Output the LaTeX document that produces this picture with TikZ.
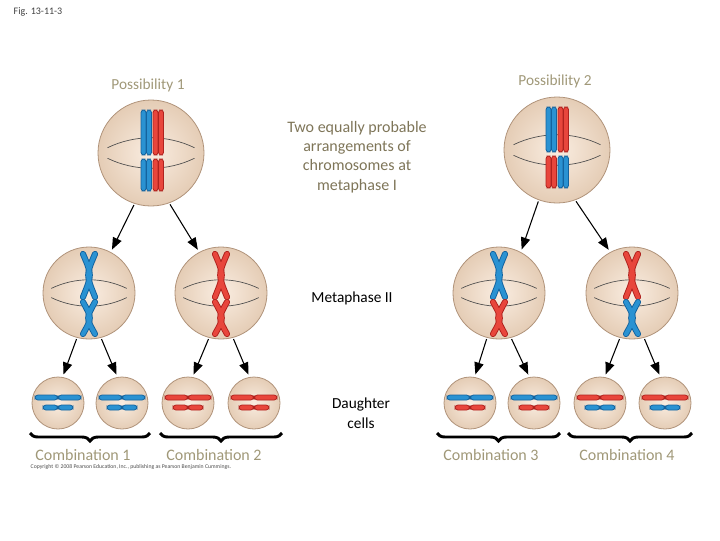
\documentclass[tikz,border=0pt]{standalone}
\usepackage{fontspec}
\setmainfont{Carlito}
\usetikzlibrary{decorations.pathreplacing,arrows.meta}
\definecolor{bl}{HTML}{2A92D2}
\definecolor{bld}{HTML}{14639E}
\definecolor{rd}{HTML}{E8463C}
\definecolor{rdd}{HTML}{B0221E}
\definecolor{cellf}{HTML}{F6E1CD}
\definecolor{celld}{HTML}{B0937A}
\definecolor{tan}{HTML}{A09878}
\definecolor{olive}{HTML}{7E7558}
\tikzset{
 cell/.style={circle,draw=celld,line width=0.6pt,inner color=cellf!60!white,outer color=cellf!90!brown!95!black,inner sep=0pt},
 spin/.style={draw=black!70,line width=0.5pt},
 arr/.style={-{Triangle[length=9pt,width=7pt]},line width=0.8pt,shorten >=2pt,shorten <=1pt},
 lbl/.style={font=\fontsize{11.5}{14}\selectfont,text=tan},
 blk/.style={font=\fontsize{11.5}{15}\selectfont,text=black,align=center},
 brc/.style={decorate,decoration={brace,amplitude=6pt,mirror},line width=2.2pt},
}
\newcommand\spindle[3]{%
 \draw[spin] (#1-0.82*#3,#2-0.1*#3) .. controls (#1-0.3*#3,#2-0.35*#3) and (#1+0.3*#3,#2-0.35*#3) .. (#1+0.82*#3,#2-0.1*#3);
 \draw[spin] (#1-0.82*#3,#2+0.1*#3) .. controls (#1-0.3*#3,#2+0.35*#3) and (#1+0.3*#3,#2+0.35*#3) .. (#1+0.82*#3,#2+0.1*#3);}
\newcommand\chrV[5]{% x (left edge), ytop, ybot, fill, edge
 \draw[fill=#4,draw=#5,line width=0.6pt,rounded corners=2pt] (#1,#2) rectangle (#1+5,#3);
 \draw[fill=#4,draw=#5,line width=0.6pt,rounded corners=2pt] (#1+5.5,#2) rectangle (#1+10.5,#3);}
\newcommand\chrX[6]{% x, ytop, ymid, ybot, fill, edge
 \foreach \s in {-1,1}{
 \draw[#6,line width=4.6pt,line cap=round] (#1+\s*6,#2) .. controls (#1-\s*3,#3) .. (#1+\s*6,#4);}
 \foreach \s in {-1,1}{
 \draw[#5,line width=3.2pt,line cap=round] (#1+\s*6,#2) .. controls (#1-\s*3,#3) .. (#1+\s*6,#4);}}
\newcommand\dbar[6]{% x1,x2,y1,y2,fill,edge
 \draw[fill=#5,draw=#6,line width=0.6pt,rounded corners=2.2pt] (#1,#3) rectangle (#2,#4);}
\newcommand\dcell[6]{% x,y, top fill, top edge, bottom fill, bottom edge
 \dbar{#1-23}{#1-0.5}{#2-8}{#2-3}{#3}{#4}\dbar{#1+0.5}{#1+23}{#2-8}{#2-3}{#3}{#4}
 \dbar{#1-15}{#1-0.5}{#2+2}{#2+7}{#5}{#6}\dbar{#1+0.5}{#1+15}{#2+2}{#2+7}{#5}{#6}}
\begin{document}
\begin{tikzpicture}[x=0.75pt,y=-0.75pt]
\useasboundingbox (0,0) rectangle (720,540);
\node[font=\fontsize{7.5}{9}\selectfont,anchor=west,text=black!75] (fig) at (9,12) {Fig. 13-11-3};
% big cells
\node[cell,minimum size=106*0.75pt] (c1) at (151,153) {};
\node[cell,minimum size=106*0.75pt] (c2) at (557,150) {};
\spindle{151}{153}{53}\spindle{557}{150}{53}
\chrV{141}{110}{155}{bl}{bld}\chrV{153}{110}{155}{rd}{rdd}
\chrV{141}{159}{191}{bl}{bld}\chrV{153}{159}{191}{rd}{rdd}
\chrV{546}{107}{152}{bl}{bld}\chrV{558}{107}{152}{rd}{rdd}
\chrV{546}{156}{188}{rd}{rdd}\chrV{558}{156}{188}{bl}{bld}
% metaphase II
\node[cell,minimum size=92*0.75pt] (m1) at (89,293) {};
\node[cell,minimum size=92*0.75pt] (m2) at (221,293) {};
\node[cell,minimum size=92*0.75pt] (m3) at (499,293) {};
\node[cell,minimum size=92*0.75pt] (m4) at (632,293) {};
\foreach \x in {89,221,499,632}{\spindle{\x}{293}{46}}
\chrX{89}{254}{275}{297}{bl}{bld}\chrX{89}{302}{318}{334}{bl}{bld}
\chrX{221}{254}{275}{297}{rd}{rdd}\chrX{221}{302}{318}{334}{rd}{rdd}
\chrX{499}{254}{275}{297}{bl}{bld}\chrX{499}{302}{318}{334}{rd}{rdd}
\chrX{632}{254}{275}{297}{rd}{rdd}\chrX{632}{302}{318}{334}{bl}{bld}
% daughters
\foreach \n/\x in {1/58,2/122,3/188,4/254,5/470,6/534,7/600,8/665}{
 \node[cell,minimum size=52*0.75pt] (d\n) at (\x,403) {};}
\dcell{58}{403}{bl}{bld}{bl}{bld}\dcell{122}{403}{bl}{bld}{bl}{bld}
\dcell{188}{403}{rd}{rdd}{rd}{rdd}\dcell{254}{403}{rd}{rdd}{rd}{rdd}
\dcell{470}{403}{bl}{bld}{rd}{rdd}\dcell{534}{403}{bl}{bld}{rd}{rdd}
\dcell{600}{403}{rd}{rdd}{bl}{bld}\dcell{665}{403}{rd}{rdd}{bl}{bld}
% arrows
\draw[arr] (c1.252) -- (m1.62);
\draw[arr] (c1.290) -- (m2.118);
\draw[arr] (c2.250) -- (m3.62);
\draw[arr] (c2.290) -- (m4.118);
\foreach \m/\a/\b in {m1/d1/d2,m2/d3/d4,m3/d5/d6,m4/d7/d8}{
 \draw[arr] (\m.255) -- (\a.80);
 \draw[arr] (\m.285) -- (\b.100);}
% braces
\coordinate (b1l) at (30,433); \coordinate (b1r) at (150,433);
\coordinate (b2l) at (160,433); \coordinate (b2r) at (282,433);
\coordinate (b3l) at (437,433); \coordinate (b3r) at (560,433);
\coordinate (b4l) at (568,433); \coordinate (b4r) at (692,433);
\draw[brc] (b1l) -- (b1r);
\draw[brc] (b2l) -- (b2r);
\draw[brc] (b3l) -- (b3r);
\draw[brc] (b4l) -- (b4r);
% labels
\node[lbl] (p1) at (148,85) {Possibility 1};
\node[lbl] (p2) at (555,81) {Possibility 2};
\node[blk,text=olive,font=\fontsize{12}{14.5}\selectfont] (two) at (357,157) {Two equally probable\\arrangements of\\chromosomes at\\metaphase I};
\node[blk] (m2l) at (352,298) {Metaphase II};
\node[blk] (dc) at (361,413) {Daughter\\cells};
\node[lbl,font=\fontsize{12}{14}\selectfont] (k1) at (83,455) {Combination 1};
\node[lbl,font=\fontsize{12}{14}\selectfont] (k2) at (214,455) {Combination 2};
\node[lbl,font=\fontsize{12}{14}\selectfont] (k3) at (491,455) {Combination 3};
\node[lbl,font=\fontsize{12}{14}\selectfont] (k4) at (627,455) {Combination 4};
\node[anchor=west,font=\fontsize{4.3}{5}\selectfont,text=black!70] (copy) at (26,467) {Copyright © 2008 Pearson Education, Inc., publishing as Pearson Benjamin Cummings.};
\end{tikzpicture}
\end{document}
